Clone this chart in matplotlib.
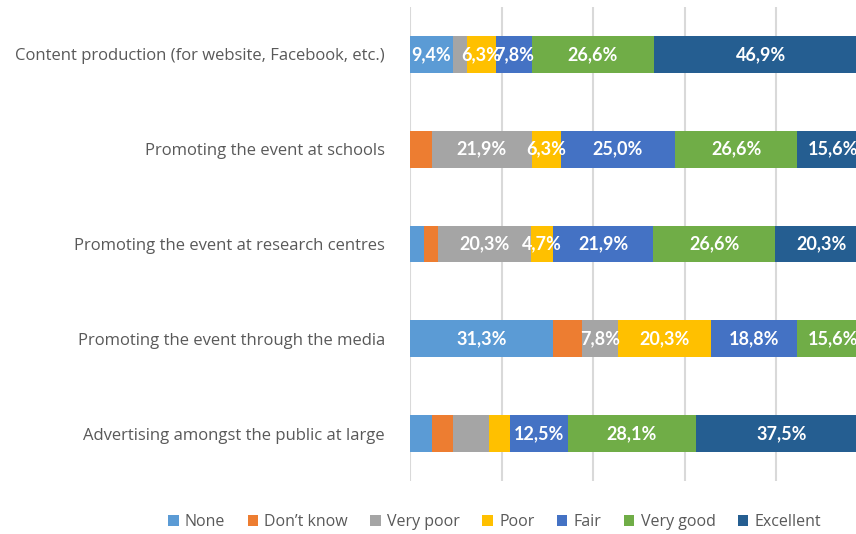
import matplotlib
matplotlib.use('Agg')
import matplotlib.pyplot as plt
import numpy as np

# Survey ratings per activity (percent of respondents)
categories = [
    'Content production (for website, Facebook, etc.)',
    'Promoting the event at schools',
    'Promoting the event at research centres',
    'Promoting the event through the media',
    'Advertising amongst the public at large',
]
series_names = ['None', 'Don\u2019t know', 'Very poor', 'Poor', 'Fair', 'Very good', 'Excellent']

none_vals = [9.4, 0.0, 3.1, 31.3, 4.7]
dont_know = [0.0, 4.7, 3.1, 6.3, 4.7]
very_poor = [3.1, 21.9, 20.3, 7.8, 7.8]
poor = [6.3, 6.3, 4.7, 20.3, 4.7]
fair = [7.8, 25.0, 21.9, 18.8, 12.5]
very_good = [26.6, 26.6, 26.6, 15.6, 28.1]
excellent = [46.9, 15.6, 20.3, 0.0, 37.5]

# labels that were removed in the original chart: (row, series)
hidden_labels = {(0, 2), (1, 1), (2, 0), (2, 1), (3, 1),
                 (4, 0), (4, 1), (4, 2), (4, 3)}

colors = ['#5B9BD5', '#ED7D31', '#A5A5A5', '#FFC000', '#4472C4', '#70AD47', '#255E91']

all_series = [none_vals, dont_know, very_poor, poor, fair, very_good, excellent]

fig = plt.figure(figsize=(8.56, 5.34), dpi=100)
ax = fig.add_axes([410 / 856, 53 / 534, 458 / 856, 474 / 534])

y = np.arange(len(categories))
left = np.zeros(len(categories))
for s, (name, vals, col) in enumerate(zip(series_names, all_series, colors)):
    vals = np.array(vals)
    ax.barh(y, vals, left=left, height=0.39, color=col, label=name, zorder=2)
    for r, v in enumerate(vals):
        if v <= 0 or (r, s) in hidden_labels:
            continue
        txt = ('%.1f%%' % v).replace('.', ',')
        ax.text(left[r] + v / 2, r, txt, ha='center', va='center',
                color='white', fontsize=13, fontweight='bold',
                family='Lato', zorder=3, clip_on=True)
    left += vals

ax.set_xlim(0, 100)
ax.set_ylim(len(categories) - 0.5, -0.5)
ax.set_xticks([0, 20, 40, 60, 80, 100])
ax.xaxis.grid(True, color='#D9D9D9', linewidth=1.5, zorder=0)
ax.tick_params(axis='x', length=0, labelbottom=False)
ax.tick_params(axis='y', length=0, pad=18)
ax.set_yticks(y)
ax.set_yticklabels(categories, fontsize=12, color='#595959', family='Open Sans')
for sp in ax.spines.values():
    sp.set_visible(False)

fig.legend(loc='center', bbox_to_anchor=(0.578, 0.022), ncol=7, frameon=False,
           handlelength=0.65, handleheight=0.65, handletextpad=0.4, columnspacing=1.4,
           prop={'family': 'Open Sans', 'size': 11.5}, labelcolor='#595959')

fig.savefig('out.png', dpi=100)
